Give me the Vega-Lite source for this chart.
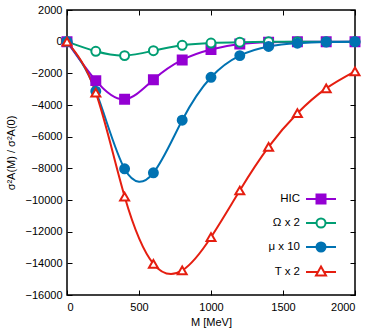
{
  "$schema": "https://vega.github.io/schema/vega-lite/v6.json",
  "width": 288,
  "height": 285,
  "autosize": {"type": "none"},
  "padding": {"left": 67, "top": 10, "right": 19, "bottom": 35},
  "config": {
    "font": "Liberation Sans",
    "view": {"stroke": "black", "strokeWidth": 1.5},
    "axis": {"grid": false, "domain": false, "labelFont": "Liberation Sans", "labelFontSize": 11, "labelColor": "black", "tickColor": "black", "tickWidth": 1, "titleFont": "Liberation Sans", "titleFontSize": 11, "titleFontWeight": "normal", "titleColor": "black"}
  },
  "datasets": {
    "curves": [
      {"series": "HIC", "M": 0, "ratio": 0},
      {"series": "HIC", "M": 200, "ratio": -2460},
      {"series": "HIC", "M": 400, "ratio": -3640},
      {"series": "HIC", "M": 600, "ratio": -2400},
      {"series": "HIC", "M": 800, "ratio": -1155},
      {"series": "HIC", "M": 1000, "ratio": -500},
      {"series": "HIC", "M": 1200, "ratio": -150},
      {"series": "HIC", "M": 1400, "ratio": -40},
      {"series": "HIC", "M": 1600, "ratio": -10},
      {"series": "HIC", "M": 1800, "ratio": 0},
      {"series": "HIC", "M": 2000, "ratio": 0},
      {"series": "Ω x 2", "M": 0, "ratio": 0},
      {"series": "Ω x 2", "M": 200, "ratio": -610},
      {"series": "Ω x 2", "M": 400, "ratio": -880},
      {"series": "Ω x 2", "M": 600, "ratio": -570},
      {"series": "Ω x 2", "M": 800, "ratio": -230},
      {"series": "Ω x 2", "M": 1000, "ratio": -85},
      {"series": "Ω x 2", "M": 1200, "ratio": -35},
      {"series": "Ω x 2", "M": 1400, "ratio": -10},
      {"series": "Ω x 2", "M": 1600, "ratio": 0},
      {"series": "Ω x 2", "M": 1800, "ratio": 0},
      {"series": "Ω x 2", "M": 2000, "ratio": 0},
      {"series": "μ x 10", "M": 0, "ratio": 0},
      {"series": "μ x 10", "M": 200, "ratio": -3130},
      {"series": "μ x 10", "M": 400, "ratio": -8030},
      {"series": "μ x 10", "M": 600, "ratio": -8280},
      {"series": "μ x 10", "M": 800, "ratio": -4960},
      {"series": "μ x 10", "M": 1000, "ratio": -2250},
      {"series": "μ x 10", "M": 1200, "ratio": -880},
      {"series": "μ x 10", "M": 1400, "ratio": -300},
      {"series": "μ x 10", "M": 1600, "ratio": -100},
      {"series": "μ x 10", "M": 1800, "ratio": -25},
      {"series": "μ x 10", "M": 2000, "ratio": 0},
      {"series": "T x 2", "M": 0, "ratio": 0},
      {"series": "T x 2", "M": 200, "ratio": -3220},
      {"series": "T x 2", "M": 400, "ratio": -9780},
      {"series": "T x 2", "M": 600, "ratio": -14030},
      {"series": "T x 2", "M": 800, "ratio": -14450},
      {"series": "T x 2", "M": 1000, "ratio": -12350},
      {"series": "T x 2", "M": 1200, "ratio": -9400},
      {"series": "T x 2", "M": 1400, "ratio": -6650},
      {"series": "T x 2", "M": 1600, "ratio": -4520},
      {"series": "T x 2", "M": 1800, "ratio": -2950},
      {"series": "T x 2", "M": 2000, "ratio": -1870}
    ]
  },
  "layer": [
    {
      "data": {"name": "curves"},
      "mark": {"type": "line", "interpolate": "natural", "strokeWidth": 2},
      "encoding": {
        "x": {"field": "M", "type": "quantitative", "scale": {"domain": [0, 2000], "nice": false},
              "axis": {"orient": "bottom", "title": "M [MeV]", "values": [0, 500, 1000, 1500, 2000], "format": "d", "ticks": false, "labelPadding": 6, "titlePadding": 4}},
        "y": {"field": "ratio", "type": "quantitative", "scale": {"domain": [-16000, 2000], "nice": false},
              "axis": {"orient": "left", "title": "σ²A(M) / σ²A(0)", "values": [-16000, -14000, -12000, -10000, -8000, -6000, -4000, -2000, 0, 2000], "format": "d", "ticks": false, "labelPadding": 5, "titlePadding": 8}},
        "color": {"field": "series", "type": "nominal",
                  "scale": {"domain": ["HIC", "Ω x 2", "μ x 10", "T x 2"], "range": ["#9400d3", "#009e73", "#0072b2", "#e51e10"]},
                  "legend": null},
        "detail": {"field": "series"}
      }
    },
    {
      "data": {"name": "curves"},
      "mark": {"type": "point", "strokeWidth": 2, "opacity": 1},
      "encoding": {
        "x": {"field": "M", "type": "quantitative", "axis": null},
        "y": {"field": "ratio", "type": "quantitative", "axis": null},
        "color": {"field": "series", "type": "nominal", "legend": null},
        "fill": {"field": "series", "type": "nominal",
                 "scale": {"domain": ["HIC", "Ω x 2", "μ x 10", "T x 2"], "range": ["#9400d3", "white", "#0072b2", "white"]},
                 "legend": null},
        "shape": {"field": "series", "type": "nominal",
                  "scale": {"domain": ["HIC", "Ω x 2", "μ x 10", "T x 2"], "range": ["square", "circle", "circle", "triangle-up"]},
                  "legend": null},
        "size": {"value": 80}
      }
    },
    {
      "data": {"name": "curves"},
      "mark": {"type": "point", "strokeWidth": 2, "opacity": 0},
      "encoding": {
        "x": {"field": "M", "type": "quantitative", "axis": {"orient": "top", "offset": -285, "values": [0, 500, 1000, 1500, 2000], "labels": false, "ticks": true, "tickSize": 5, "title": null}},
        "y": {"field": "ratio", "type": "quantitative", "axis": {"orient": "right", "offset": -288, "values": [-16000, -14000, -12000, -10000, -8000, -6000, -4000, -2000, 0, 2000], "labels": false, "ticks": true, "tickSize": 5, "title": null}},
        "color": {"field": "series", "type": "nominal",
                  "legend": {
                    "title": null, "orient": "bottom-right", "offset": 15,
                    "labelFont": "Liberation Sans", "labelFontSize": 11.5, "labelColor": "black",
                    "symbolSize": 100, "symbolStrokeWidth": 2, "rowPadding": 6, "symbolOpacity": 1,
                    "encode": {"labels": {"update": {"x": {"value": -15}, "align": {"value": "right"}}}}
                  }},
        "fill": {"field": "series", "type": "nominal",
                 "scale": {"domain": ["HIC", "Ω x 2", "μ x 10", "T x 2"], "range": ["#9400d3", "white", "#0072b2", "white"]},
                 "legend": {
                    "title": null, "orient": "bottom-right", "offset": 15,
                    "labelFont": "Liberation Sans", "labelFontSize": 11.5, "labelColor": "black",
                    "symbolSize": 100, "symbolStrokeWidth": 2, "rowPadding": 6, "symbolOpacity": 1,
                    "encode": {"labels": {"update": {"x": {"value": -15}, "align": {"value": "right"}}}}
                  }},
        "shape": {"field": "series", "type": "nominal",
                  "scale": {"domain": ["HIC", "Ω x 2", "μ x 10", "T x 2"], "range": [
                    "M-3,0H-0.9M0.9,0H3M-0.9,-0.9H0.9V0.9H-0.9Z",
                    "M-3,0H-0.9M0.9,0H3M-0.9,0A0.9,0.9,0,1,0,0.9,0A0.9,0.9,0,1,0,-0.9,0Z",
                    "M-3,0H-0.9M0.9,0H3M-0.9,0A0.9,0.9,0,1,0,0.9,0A0.9,0.9,0,1,0,-0.9,0Z",
                    "M-3,0H-0.61M0.61,0H3M0,-1.1L1,0.7H-1Z"]},
                  "legend": {
                    "title": null, "orient": "bottom-right", "offset": 15,
                    "labelFont": "Liberation Sans", "labelFontSize": 11.5, "labelColor": "black",
                    "symbolSize": 100, "symbolStrokeWidth": 2, "rowPadding": 6, "symbolOpacity": 1,
                    "encode": {"labels": {"update": {"x": {"value": -15}, "align": {"value": "right"}}}}
                  }}
      }
    },
    {
      "data": {"name": "curves"},
      "mark": {"type": "point", "opacity": 0},
      "encoding": {
        "x": {"field": "M", "type": "quantitative", "axis": {"orient": "bottom", "offset": -285, "values": [0, 500, 1000, 1500, 2000], "labels": false, "ticks": true, "tickSize": 5, "title": null}},
        "y": {"field": "ratio", "type": "quantitative", "axis": {"orient": "left", "offset": -288, "values": [-16000, -14000, -12000, -10000, -8000, -6000, -4000, -2000, 0, 2000], "labels": false, "ticks": true, "tickSize": 5, "title": null}}
      }
    },
    {
      "mark": {"type": "text", "align": "left", "baseline": "middle", "fontSize": 11.5, "font": "Liberation Sans", "color": "black"},
      "encoding": {
        "x": {"datum": 60, "type": "quantitative", "axis": null},
        "y": {"datum": 1070, "type": "quantitative", "axis": null},
        "text": {"value": "(HIC: μ=30 MeV; T=150 MeV; Ω=6.6 MeV)"}
      }
    },
    {
      "mark": {"type": "text", "align": "left", "baseline": "middle", "fontSize": 11.5, "font": "Liberation Sans", "color": "black"},
      "encoding": {
        "x": {"datum": 95, "type": "quantitative", "axis": null},
        "y": {"datum": -15220, "type": "quantitative", "axis": null},
        "text": {"value": "(b)"}
      }
    }
  ],
  "resolve": {"axis": {"x": "independent", "y": "independent"}, "scale": {"shape": "independent"}, "legend": {"color": "independent", "fill": "independent", "shape": "independent"}}
}
